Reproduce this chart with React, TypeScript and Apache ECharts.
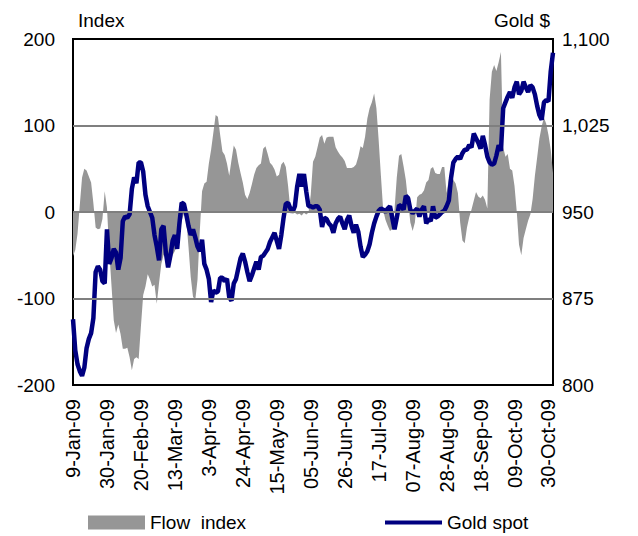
import React, { useEffect, useRef } from "react";
import * as echarts from "echarts";

const FONT = '"Liberation Sans", Arial, Helvetica, sans-serif';

const TICK_LABELS = [
  "9-Jan-09", "30-Jan-09", "20-Feb-09", "13-Mar-09", "3-Apr-09", "24-Apr-09", "15-May-09",
  "05-Jun-09", "26-Jun-09", "17-Jul-09", "07-Aug-09", "28-Aug-09", "18-Sep-09", "09-Oct-09", "30-Oct-09",
];

const FLOW_INDEX = [
  -51, -44, -25, 8, 40, 50, 48, 41, 34, 10,
  -18, -20, -19, -8, 24, 5, -45, -85, -125, -140,
  -130, -141, -158, -158, -157, -168, -183, -170, -168, -170,
  -132, -96, -86, -72, -78, -86, -84, -106, -82, -60,
  -50, -49, -51, -53, -50, -45, -38, -25, -10, -2,
  -8, -40, -75, -98, -102, -78, -22, 24, 33, 35,
  56, 72, 92, 112, 110, 89, 70, 66, 56, 42,
  60, 77, 72, 57, 45, 34, 20, 15, 22, 32,
  43, 51, 54, 56, 73, 76, 67, 57, 54, 49,
  41, 43, 55, 58, 52, 30, 3, -2, -1, -3,
  -2, -4, -1, -3, -1, 20, 58, 64, 75, 86,
  89, 79, 86, 87, 87, 87, 75, 70, 66, 63,
  59, 51, 51, 51, 52, 55, 64, 76, 74, 87,
  108, 120, 127, 137, 120, 83, 42, 2, -9, -16,
  -22, -20, 3, 40, 65, 67, 53, 37, 12, -12,
  -22, -12, 17, 20, 21, 25, 34, 37, 50, 52,
  45, 44, 44, 52, 52, 22, 38, 46, 37, 33,
  22, -12, -33, -36, -18, -6, 3, 13, 23, 18,
  16, 19, 14, 4, 130, 162, 170, 163, 173, 185,
  75, 64, 67, 50, 48, 30, 0, -38, -50, -30,
  -20, -10, -3, 15, 42, 63, 85, 99, 109, 102,
  89, 72, 45,
];

const GOLD_SPOT = [
  857, 830, 818, 812, 808, 815, 832, 840, 845, 858,
  898, 903, 900, 890, 888, 935, 905, 910, 918, 915,
  900, 910, 942, 946, 945, 948, 970, 980, 975, 993,
  993, 985, 965, 955, 950, 945, 930, 920, 908, 935,
  938, 915, 902, 912, 925, 930, 918, 940, 958, 957,
  948, 938, 930, 935, 928, 920, 916, 926, 905, 900,
  892, 872, 882, 880, 881, 893, 893, 890, 892, 876,
  873, 888, 892, 901, 910, 914, 907, 898, 890, 895,
  901, 907, 900, 911, 912, 915, 918, 924, 928, 932,
  925, 918, 930, 945, 957, 958, 953, 950, 955, 972,
  983, 972, 983, 968, 955, 955, 954, 955, 955, 952,
  937, 945, 944, 940, 938, 932, 940, 944, 946, 940,
  935, 943, 947, 938, 932, 939, 933, 920, 911, 913,
  916, 922, 932, 940, 946, 951, 953, 952, 950, 953,
  955, 945, 935, 945, 956, 955, 952, 964, 962, 952,
  949, 951, 953, 946, 952, 955, 940, 944, 942, 955,
  945, 946, 948, 950, 951, 955, 960, 980, 993, 996,
  998, 996, 1001, 1004, 1004, 1008, 1006, 1018, 1014, 1010,
  1005, 1016, 1008, 998, 993, 991, 992, 999, 1008, 1003,
  1040, 1045, 1050, 1054, 1049, 1058, 1063, 1052, 1055, 1063,
  1058, 1054, 1060, 1058, 1052, 1042, 1034, 1030, 1045, 1047,
  1046, 1072, 1088,
];

const MONTHS = ["Jan", "Feb", "Mar", "Apr", "May", "Jun", "Jul", "Aug", "Sep", "Oct", "Nov", "Dec"];

// Weekday dates starting 9-Jan-2009, one per data point
const CATEGORIES: string[] = (() => {
  const out: string[] = [];
  const d = new Date(Date.UTC(2009, 0, 9));
  while (out.length < GOLD_SPOT.length) {
    const wd = d.getUTCDay();
    if (wd !== 0 && wd !== 6) {
      const dd = String(d.getUTCDate()).padStart(2, "0");
      out.push(`${dd}-${MONTHS[d.getUTCMonth()]}-09`);
    }
    d.setUTCDate(d.getUTCDate() + 1);
  }
  return out;
})();

export default function App() {
  const ref = useRef<HTMLDivElement>(null);

  useEffect(() => {
    document.body.style.margin = "0";
    if (!ref.current) return;
    const chart = echarts.init(ref.current, undefined, { renderer: "svg" });
    const txt = { color: "#000", fontFamily: FONT };
    chart.setOption({
      animation: false,
      backgroundColor: "#fff",
      grid: {
        left: 73,
        right: 85,
        top: 39,
        bottom: 151,
        show: true,
        borderColor: "#000",
        borderWidth: 2,
        backgroundColor: "transparent",
      },
      legend: [
        {
          data: [{ name: "Flow  index", icon: "rect" }],
          left: 83,
          top: 508,
          itemWidth: 57,
          itemHeight: 14,
          itemGap: 5,
          textStyle: { ...txt, fontSize: 19 },
          selectedMode: false,
        },
        {
          data: [{ name: "Gold spot", icon: "rect" }],
          left: 380,
          top: 508,
          itemWidth: 57,
          itemHeight: 4,
          textStyle: { ...txt, fontSize: 19 },
          selectedMode: false,
        },
      ],
      xAxis: {
        type: "category",
        data: CATEGORIES,
        boundaryGap: false,
        axisLine: { show: false },
        axisTick: { show: false },
        splitLine: { show: false },
        axisLabel: {
          ...txt,
          fontSize: 20,
          rotate: 90,
          margin: 14,
          interval: 14,
          formatter: (_v: string, i: number) => (i % 15 === 0 ? TICK_LABELS[i / 15] ?? "" : ""),
        },
      },
      yAxis: [
        {
          type: "value",
          min: -200,
          max: 200,
          interval: 100,
          name: "Index",
          nameLocation: "end",
          nameGap: 19,
          nameTextStyle: { ...txt, fontSize: 19, align: "left", verticalAlign: "middle", padding: [0, 0, 0, 5] },
          axisLine: { show: false },
          axisTick: { show: false },
          splitLine: { show: false },
          axisLabel: { ...txt, fontSize: 19, margin: 18 },
        },
        {
          type: "value",
          position: "right",
          min: 800,
          max: 1100,
          interval: 75,
          name: "Gold $",
          nameLocation: "end",
          nameGap: 19,
          nameTextStyle: { ...txt, fontSize: 19, align: "right", verticalAlign: "middle", padding: [0, 3, 0, 0] },
          axisLine: { show: false },
          axisTick: { show: false },
          splitLine: { show: false },
          axisLabel: {
            ...txt,
            fontSize: 19,
            margin: 9,
            formatter: (v: number) => v.toLocaleString("en-US"),
          },
        },
      ],
      series: [
        {
          name: "Flow  index",
          type: "line",
          yAxisIndex: 0,
          data: FLOW_INDEX,
          symbol: "none",
          lineStyle: { width: 0, opacity: 0 },
          itemStyle: { color: "#969696" },
          areaStyle: { color: "#969696", opacity: 1 },
          z: 2,
          markLine: {
            silent: true,
            symbol: "none",
            label: { show: false },
            lineStyle: { color: "#7f7f7f", width: 1.8, type: "solid" },
            data: [{ yAxis: 100 }, { yAxis: 0 }, { yAxis: -100 }],
          },
        },
        {
          name: "Gold spot",
          type: "line",
          yAxisIndex: 1,
          data: GOLD_SPOT,
          symbol: "none",
          lineStyle: { width: 4.5, color: "#000080" },
          itemStyle: { color: "#000080" },
          z: 3,
        },
      ],
    });
    return () => chart.dispose();
  }, []);

  return <div ref={ref} style={{ width: 638, height: 536 }} />;
}
